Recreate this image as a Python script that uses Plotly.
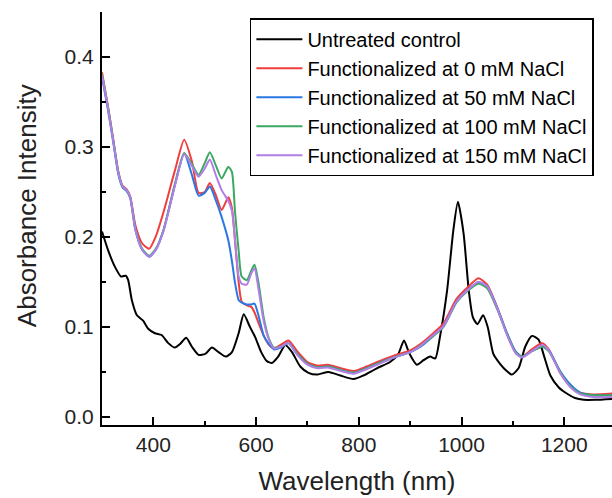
import plotly.graph_objects as go

# ---- data ----
wl_ctrl = [300, 312, 325, 337, 346, 351, 358, 368, 380, 390, 403, 416, 429, 442, 452, 464, 475, 488,
           501, 514, 527, 541, 553, 566, 576, 588, 598, 610, 621, 631, 643, 657, 670, 686, 702, 718,
           741, 764, 790, 809, 835, 861, 877, 888, 898, 913, 926, 939, 949, 958, 972, 984, 993, 1004,
           1014, 1022, 1031, 1042, 1051, 1062, 1075, 1088, 1098, 1111, 1124, 1137, 1150, 1160, 1173,
           1189, 1205, 1221, 1238, 1260, 1293]
abs_ctrl = [0.206, 0.185, 0.167, 0.156, 0.157, 0.152, 0.130, 0.113, 0.107, 0.098, 0.093, 0.091, 0.082,
            0.077, 0.081, 0.088, 0.078, 0.069, 0.070, 0.077, 0.072, 0.067, 0.072, 0.093, 0.114, 0.100,
            0.089, 0.072, 0.062, 0.060, 0.067, 0.080, 0.072, 0.056, 0.049, 0.047, 0.050, 0.046, 0.042,
            0.046, 0.054, 0.061, 0.070, 0.085, 0.071, 0.058, 0.063, 0.067, 0.065, 0.089, 0.141, 0.207,
            0.239, 0.204, 0.141, 0.111, 0.103, 0.113, 0.100, 0.070, 0.059, 0.051, 0.047, 0.054, 0.078,
            0.090, 0.086, 0.069, 0.046, 0.033, 0.026, 0.021, 0.019, 0.019, 0.020]

wl_func = [300, 312, 322, 332, 340, 348, 355, 365, 378, 392,
           405, 420, 442, 460, 475, 488, 500, 510, 522, 533,
           546, 553, 559, 566, 572, 582, 591, 597, 605, 615,
           625, 635, 648, 663, 680, 700, 720, 740, 765, 790,
           815, 840, 868, 900, 920, 945, 965, 990, 1010, 1033,
           1050, 1070, 1088, 1105, 1118, 1137, 1157, 1170, 1192, 1212,
           1231, 1257, 1293]

abs_0mM = [0.383, 0.344, 0.308, 0.272, 0.257, 0.253, 0.245, 0.213, 0.193, 0.187,
           0.201, 0.228, 0.274, 0.308, 0.284, 0.249, 0.250, 0.260, 0.246, 0.230,
           0.244, 0.232, 0.196, 0.150, 0.128, 0.124, 0.122, 0.116, 0.104, 0.090,
           0.080, 0.076, 0.080, 0.085, 0.073, 0.061, 0.057, 0.058, 0.054, 0.051,
           0.056, 0.062, 0.068, 0.074, 0.081, 0.093, 0.104, 0.131, 0.143, 0.154,
           0.147, 0.121, 0.093, 0.072, 0.067, 0.075, 0.082, 0.075, 0.049, 0.034,
           0.027, 0.025, 0.026]

abs_50mM = [0.378, 0.340, 0.305, 0.269, 0.255, 0.251, 0.243, 0.208, 0.186, 0.178,
            0.186, 0.208, 0.258, 0.293, 0.269, 0.246, 0.249, 0.256, 0.240, 0.222,
            0.196, 0.173, 0.149, 0.130, 0.127, 0.125, 0.125, 0.126, 0.112, 0.090,
            0.081, 0.075, 0.077, 0.082, 0.070, 0.059, 0.055, 0.056, 0.052, 0.049,
            0.054, 0.060, 0.066, 0.072, 0.078, 0.090, 0.101, 0.128, 0.140, 0.150,
            0.145, 0.121, 0.094, 0.073, 0.067, 0.073, 0.078, 0.074, 0.051, 0.036,
            0.027, 0.024, 0.024]

abs_100mM = [0.381, 0.343, 0.307, 0.271, 0.256, 0.252, 0.244, 0.209, 0.187, 0.179,
             0.187, 0.208, 0.259, 0.293, 0.281, 0.269, 0.282, 0.294, 0.279, 0.265,
             0.278, 0.272, 0.228, 0.185, 0.156, 0.152, 0.163, 0.169, 0.148, 0.110,
             0.087, 0.077, 0.078, 0.082, 0.070, 0.059, 0.055, 0.056, 0.052, 0.049,
             0.054, 0.060, 0.066, 0.072, 0.079, 0.090, 0.100, 0.127, 0.139, 0.148,
             0.143, 0.119, 0.093, 0.072, 0.067, 0.073, 0.078, 0.073, 0.050, 0.034,
             0.026, 0.024, 0.024]

abs_150mM = [0.380, 0.342, 0.306, 0.271, 0.256, 0.252, 0.244, 0.208, 0.186, 0.178,
             0.186, 0.207, 0.257, 0.292, 0.279, 0.267, 0.276, 0.286, 0.268, 0.252,
             0.240, 0.229, 0.196, 0.156, 0.148, 0.147, 0.160, 0.165, 0.141, 0.106,
             0.086, 0.076, 0.078, 0.082, 0.069, 0.058, 0.054, 0.055, 0.051, 0.048,
             0.053, 0.059, 0.066, 0.072, 0.079, 0.091, 0.101, 0.128, 0.140, 0.150,
             0.145, 0.120, 0.092, 0.071, 0.066, 0.073, 0.080, 0.074, 0.049, 0.033,
             0.025, 0.022, 0.022]

series = [
    ("Untreated control", wl_ctrl, abs_ctrl, "#000000"),
    ("Functionalized at 0 mM NaCl", wl_func, abs_0mM, "#F03E3E"),
    ("Functionalized at 50 mM NaCl", wl_func, abs_50mM, "#2B78E4"),
    ("Functionalized at 100 mM NaCl", wl_func, abs_100mM, "#3AA862"),
    ("Functionalized at 150 mM NaCl", wl_func, abs_150mM, "#B07EE6"),
]

x_ticks = [400, 600, 800, 1000, 1200]
y_ticks = [0.0, 0.1, 0.2, 0.3, 0.4]

FONT = "Arial, Liberation Sans, sans-serif"
TXT = "#222222"

fig = go.Figure()
for name, x, y, c in series:
    fig.add_trace(go.Scatter(x=x, y=y, mode="lines", name=name,
                             line=dict(color=c, width=2, shape="spline", smoothing=0.6)))

fig.update_layout(
    width=612, height=498,
    margin=dict(l=102, r=0, t=12, b=73),
    plot_bgcolor="white", paper_bgcolor="white",
    font=dict(family=FONT, color=TXT),
    showlegend=True,
    legend=dict(x=0.29, y=0.985, xanchor="left", yanchor="top",
                bgcolor="white", bordercolor="#000000", borderwidth=1.5,
                font=dict(family=FONT, size=20, color="#000000"),
                tracegroupgap=0, itemwidth=46),
    annotations=[dict(text="Absorbance Intensity", textangle=-90,
                      xref="paper", yref="paper", x=-0.147, y=0.53,
                      xanchor="center", yanchor="middle", showarrow=False,
                      font=dict(family=FONT, size=26, color=TXT))],
)
fig.update_xaxes(
    range=[300, 1293], tickvals=x_ticks, ticktext=[str(v) for v in x_ticks],
    ticks="inside", ticklen=8, tickwidth=2, tickcolor="black",
    minor=dict(ticks="inside", ticklen=4, tickwidth=1.5, dtick=100, tickcolor="black"),
    showline=True, linewidth=2, linecolor="black", mirror=False,
    showgrid=False, zeroline=False,
    tickfont=dict(family=FONT, size=21, color=TXT),
    ticklabelstandoff=0,
    title=dict(text="Wavelength (nm)", font=dict(family=FONT, size=26, color=TXT), standoff=17),
)
fig.update_yaxes(
    range=[-0.009, 0.45], tickvals=y_ticks, ticktext=[f"{v:.1f}" for v in y_ticks],
    ticks="inside", ticklen=8, tickwidth=2, tickcolor="black",
    minor=dict(ticks="inside", ticklen=4, tickwidth=1.5, dtick=0.05, tick0=0, tickcolor="black"),
    showline=True, linewidth=2, linecolor="black", mirror=False,
    showgrid=False, zeroline=False,
    tickfont=dict(family=FONT, size=21, color=TXT),
    ticklabelstandoff=2,
)

fig.write_html("out.html")
